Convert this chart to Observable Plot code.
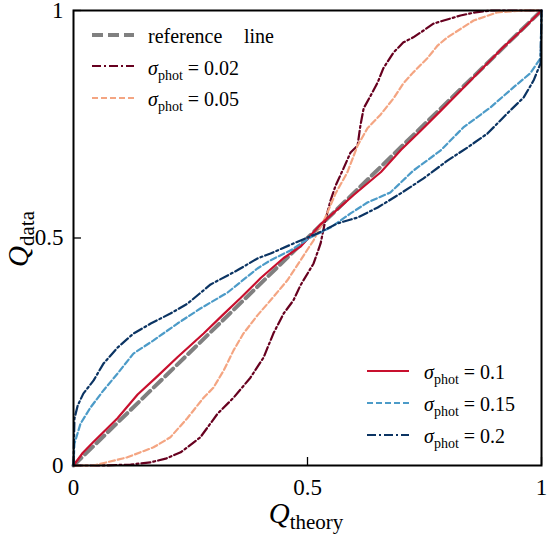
<!DOCTYPE html>
<html>
<head>
<meta charset="utf-8">
<script src="https://cdn.jsdelivr.net/npm/d3@7"></script>
<script src="https://cdn.jsdelivr.net/npm/@observablehq/plot@0.6"></script>
<style>
  body { margin: 0; background: #fff; }
  svg { display: block; }
</style>
</head>
<body>
<div id="chart"></div>
<script>
// Axis ticks
const tickValues = [0, 0.5, 1];
const tickLabels = ["0", "0.5", "1"];

// Reference (identity) line
const refX = [0, 1];
const refY = [0, 1];

// sigma_phot = 0.02
const x002 = [0, 0.058, 0.122, 0.165, 0.197, 0.229, 0.271, 0.308, 0.342, 0.378, 0.406, 0.427, 0.449, 0.470, 0.485, 0.513, 0.528, 0.538, 0.549, 0.560, 0.577, 0.592, 0.607, 0.613, 0.620, 0.635, 0.650, 0.662, 0.684, 0.705, 0.726, 0.748, 0.769, 0.791, 0.827, 0.859, 0.891, 1];
const y002 = [0, 0, 0.002, 0.007, 0.015, 0.029, 0.062, 0.114, 0.149, 0.193, 0.237, 0.290, 0.334, 0.363, 0.396, 0.444, 0.488, 0.538, 0.582, 0.615, 0.653, 0.688, 0.703, 0.747, 0.785, 0.813, 0.842, 0.873, 0.908, 0.930, 0.941, 0.956, 0.971, 0.978, 0.989, 0.996, 1, 1];

// sigma_phot = 0.05
const x005 = [0, 0.043, 0.115, 0.171, 0.207, 0.244, 0.278, 0.299, 0.321, 0.342, 0.363, 0.393, 0.421, 0.457, 0.485, 0.513, 0.538, 0.560, 0.585, 0.607, 0.628, 0.656, 0.684, 0.705, 0.726, 0.756, 0.778, 0.799, 0.855, 0.906, 0.962, 1];
const y005 = [0, 0, 0.018, 0.040, 0.062, 0.105, 0.149, 0.171, 0.209, 0.253, 0.290, 0.330, 0.363, 0.407, 0.451, 0.495, 0.545, 0.598, 0.644, 0.703, 0.741, 0.771, 0.807, 0.840, 0.864, 0.895, 0.923, 0.941, 0.978, 0.996, 1, 1];

// sigma_phot = 0.1
const x010 = [0, 0.02, 0.043, 0.094, 0.137, 0.179, 0.222, 0.278, 0.318, 0.357, 0.400, 0.449, 0.485, 0.528, 0.564, 0.598, 0.657, 0.700, 0.743, 0.786, 0.829, 0.872, 0.914, 0.957, 1];
const y010 = [0, 0.028, 0.052, 0.104, 0.156, 0.196, 0.238, 0.290, 0.330, 0.368, 0.412, 0.456, 0.481, 0.530, 0.563, 0.594, 0.645, 0.694, 0.737, 0.781, 0.826, 0.871, 0.915, 0.956, 1];

// sigma_phot = 0.15
const x015 = [0, 0.002, 0.015, 0.036, 0.064, 0.094, 0.128, 0.171, 0.222, 0.271, 0.329, 0.393, 0.421, 0.464, 0.506, 0.549, 0.592, 0.628, 0.677, 0.726, 0.784, 0.833, 0.891, 0.940, 0.976, 0.998, 1];
const y015 = [0, 0.048, 0.092, 0.127, 0.165, 0.202, 0.246, 0.275, 0.312, 0.345, 0.380, 0.433, 0.451, 0.473, 0.501, 0.523, 0.554, 0.578, 0.600, 0.648, 0.692, 0.743, 0.787, 0.831, 0.862, 0.895, 1];

// sigma_phot = 0.2
const x020 = [0, 0.002, 0.009, 0.021, 0.043, 0.064, 0.094, 0.128, 0.165, 0.207, 0.244, 0.293, 0.350, 0.393, 0.421, 0.470, 0.521, 0.564, 0.607, 0.650, 0.699, 0.748, 0.799, 0.842, 0.885, 0.927, 0.962, 0.983, 0.998, 1];
const y020 = [0, 0.103, 0.132, 0.158, 0.187, 0.224, 0.259, 0.290, 0.312, 0.334, 0.356, 0.398, 0.429, 0.455, 0.466, 0.488, 0.510, 0.532, 0.545, 0.567, 0.598, 0.631, 0.670, 0.699, 0.730, 0.774, 0.809, 0.846, 0.884, 1];

const sigmaLabels = ["0.02", "0.05", "0.1", "0.15", "0.2"];
const colors = ["#67001f", "#f4a582", "#c8102e", "#4c9bc8", "#0b3463"];
const dashes = ["9,3,2,3", "6,3", null, "6,3", "9,3,2,3"];
const xs = [x002, x005, x010, x015, x020];
const ys = [y002, y005, y010, y015, y020];

const series = sigmaLabels.map((label, k) => ({
  label, color: colors[k], dash: dashes[k],
  rows: xs[k].map((x, i) => ({x, y: ys[k][i]}))
}));
const refRows = refX.map((x, i) => ({x, y: refY[i]}));

const refStyle = {color: "#808080", dash: "11,5", width: 4};
const font = "'Liberation Serif', 'DejaVu Serif', serif";

const chart = Plot.plot({
  width: 548,
  height: 537,
  marginLeft: 73,
  marginRight: 7,
  marginTop: 10,
  marginBottom: 72,
  style: {fontFamily: font, fontSize: "23px", color: "#000", background: "#fff"},
  x: {domain: [0, 1]},
  y: {domain: [0, 1]},
  marks: [
    Plot.line(refRows, {x: "x", y: "y", stroke: refStyle.color, strokeWidth: refStyle.width, strokeDasharray: refStyle.dash}),
    ...series.map(s => Plot.line(s.rows, {
      x: "x", y: "y", stroke: s.color, strokeWidth: 2.2,
      strokeDasharray: s.dash || undefined
    })),
    Plot.frame({stroke: "#000", strokeWidth: 2}),
    // inward-pointing ticks on the bottom and left edges
    Plot.axisX(tickValues, {tickSize: -8, tickPadding: 21, strokeWidth: 1.3, label: null, fontSize: 23,
      tickFormat: d => tickLabels[tickValues.indexOf(d)]}),
    Plot.axisY(tickValues, {tickSize: -8, tickPadding: 18, strokeWidth: 1.3, label: null, fontSize: 23,
      tickFormat: d => tickLabels[tickValues.indexOf(d)]})
  ]
});

document.getElementById("chart").appendChild(chart);

// Axis titles and legends with sub-scripted text
const svg = d3.select(chart);
const g = svg.append("g").attr("font-family", font).attr("fill", "#000").attr("text-anchor", "start");

function subLabel(sel, main, sub, rest, size, subSize, shift) {
  const t = sel.append("text").attr("font-size", size);
  t.append("tspan").attr("font-style", "italic").text(main);
  t.append("tspan").attr("font-size", subSize).attr("dy", shift).text(sub);
  if (rest) t.append("tspan").attr("dy", -shift).style("white-space", "pre").text(rest);
  return t;
}

// x title
subLabel(g, "Q", "theory", null, 29, 21, 6)
  .attr("x", 306).attr("y", 523).attr("text-anchor", "middle");

// y title
subLabel(g, "Q", "data", null, 29, 21, 6)
  .attr("text-anchor", "middle")
  .attr("transform", "translate(28,239) rotate(-90)");

// legend entries
const legendItems = [
  {kind: "ref", x: 92, y: 35, tx: 148, ty: 43},
  {kind: 0, x: 92, y: 66, tx: 148, ty: 75},
  {kind: 1, x: 92, y: 98, tx: 148, ty: 106},
  {kind: 2, x: 367, y: 371, tx: 424, ty: 379},
  {kind: 3, x: 367, y: 403, tx: 424, ty: 411},
  {kind: 4, x: 367, y: 435, tx: 424, ty: 443}
];

legendItems.forEach(item => {
  const isRef = item.kind === "ref";
  const s = isRef ? null : series[item.kind];
  g.append("line")
    .attr("x1", item.x).attr("x2", item.x + 42)
    .attr("y1", item.y).attr("y2", item.y)
    .attr("stroke", isRef ? refStyle.color : s.color)
    .attr("stroke-width", isRef ? refStyle.width : 2.2)
    .attr("stroke-dasharray", isRef ? refStyle.dash : (s.dash || null));
  if (isRef) {
    const t = g.append("text").attr("font-size", 20).attr("x", item.tx).attr("y", item.ty);
    t.append("tspan").text("reference");
    t.append("tspan").attr("x", item.tx + 96).text("line");
  } else {
    subLabel(g, "\u03c3", "phot", " = " + s.label, 20, 14, 5)
      .attr("x", item.tx).attr("y", item.ty);
  }
});
</script>
</body>
</html>
